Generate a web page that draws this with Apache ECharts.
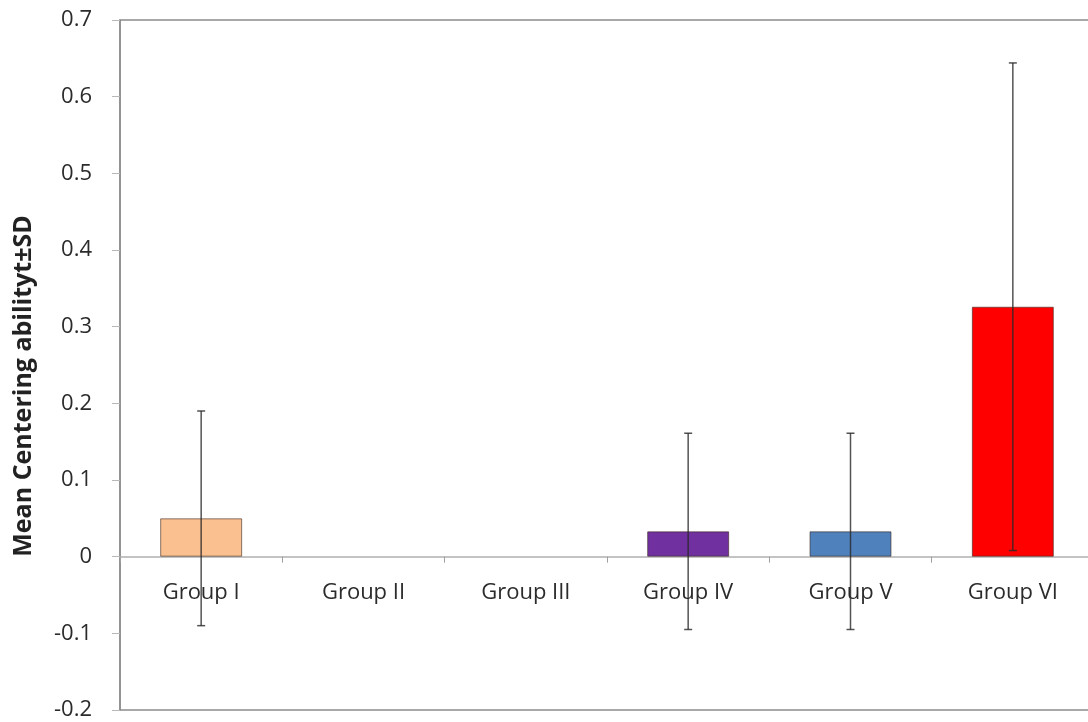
<!DOCTYPE html>
<html>
<head>
<meta charset="utf-8">
<script src="https://cdn.jsdelivr.net/npm/echarts@6/dist/echarts.min.js"></script>
<style>html,body{margin:0;padding:0;background:#fff}#c{width:1088px;height:722px}</style>
</head>
<body>
<div id="c"></div>
<script>
const categories = ['Group I', 'Group II', 'Group III', 'Group IV', 'Group V', 'Group VI'];
const means = [0.05, 0, 0, 0.033, 0.033, 0.326];
const sds = [0.14, 0, 0, 0.128, 0.128, 0.318];
const barColors = ['#FAC090', '#FAC090', '#FAC090', '#7030A0', '#4F81BD', '#FF0000'];
const yTitle = 'Mean Centering abilityt±SD';

const chart = echarts.init(document.getElementById('c'), null, {renderer: 'canvas'});
const font = '"Open Sans", "DejaVu Sans", sans-serif';

const errData = means.map((m, i) => [i, m - sds[i], m + sds[i], sds[i]]);

chart.setOption({
  animation: false,
  backgroundColor: '#fff',
  grid: {left: 120, top: 20, width: 974, height: 690, show: true, borderColor: '#8c8c8c', borderWidth: 1.5,
         backgroundColor: 'transparent', outerBoundsMode: 'none', containLabel: false},
  xAxis: {
    type: 'category',
    data: categories,
    axisLine: {onZero: true, lineStyle: {color: '#b0b0b0', width: 1.5}},
    axisTick: {show: true, inside: false, length: 6, lineStyle: {color: '#a0a0a0'}},
    axisLabel: {show: false},
    splitLine: {show: false}
  },
  yAxis: {
    type: 'value',
    min: -0.2, max: 0.7, interval: 0.1,
    axisLine: {show: true, lineStyle: {color: '#8c8c8c', width: 1.5}},
    axisTick: {show: true, length: 8, lineStyle: {color: '#b8b8b8'}},
    axisLabel: {margin: 28, fontSize: 22, color: '#2b2b2b', fontFamily: font,
      formatter: v => { const s = (Math.round(v * 10) / 10).toFixed(1); return s === '0.0' || s === '-0.0' ? '0' : s; }},
    splitLine: {show: false}
  },
  graphic: [{
    type: 'text',
    x: 24, y: 386,
    rotation: Math.PI / 2,
    style: {text: yTitle, font: 'bold 25px ' + font, fill: '#222', align: 'center', verticalAlign: 'middle'}
  }],
  series: [{
    type: 'bar',
    data: means.map((m, i) => ({value: m, itemStyle: {color: barColors[i], borderWidth: m === 0 ? 0 : 1}})),
    barWidth: '50.5%',
    itemStyle: {borderColor: 'rgba(60,40,30,0.6)', borderWidth: 1}
  }, {
    type: 'scatter',
    data: categories.map(c => 0),
    symbolSize: 0,
    silent: true,
    z: 1,
    itemStyle: {opacity: 1},
    label: {show: true, position: 'bottom', distance: 25, formatter: p => categories[p.dataIndex],
            fontSize: 22, color: '#2b2b2b', fontFamily: font, opacity: 1}
  }, {
    type: 'custom',
    data: errData,
    z: 5,
    renderItem: function (params, api) {
      if (api.value(3) === 0) return null;
      const lo = api.coord([api.value(0), api.value(1)]);
      const hi = api.coord([api.value(0), api.value(2)]);
      const x = lo[0];
      const cap = 4;
      const st = {stroke: 'rgba(40,40,40,0.8)', lineWidth: 1.5};
      return {type: 'group', children: [
        {type: 'line', shape: {x1: x, y1: lo[1], x2: x, y2: hi[1]}, style: st},
        {type: 'line', shape: {x1: x - cap, y1: lo[1], x2: x + cap, y2: lo[1]}, style: st},
        {type: 'line', shape: {x1: x - cap, y1: hi[1], x2: x + cap, y2: hi[1]}, style: st}
      ]};
    }
  }]
});
</script>
</body>
</html>
